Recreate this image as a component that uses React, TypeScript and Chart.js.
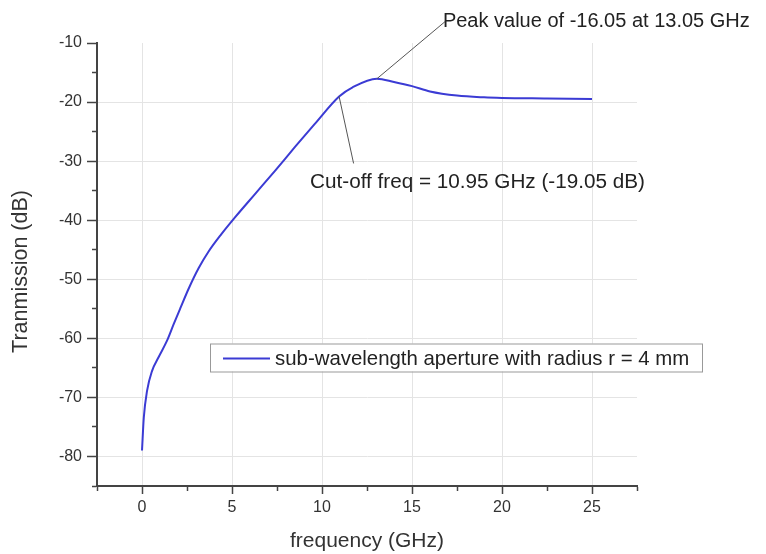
import React, { useEffect, useRef } from 'react';
import { Chart, registerables } from 'chart.js';

Chart.register(...registerables);

const frequency = [0, 0.1, 0.28, 0.56, 0.92, 1.39, 1.76, 2.13, 2.59, 3.15, 3.7, 4.4, 5.2, 6.3, 7.4, 8.5, 9.6, 10.95, 11.7, 13.05, 14, 15, 16, 17.5, 19, 20, 22.5, 25];
const transmission = [-79, -73.4, -68.9, -65.5, -63.2, -60.4, -57.6, -54.9, -51.6, -48.1, -45.3, -42.4, -39.4, -35.5, -31.6, -27.6, -23.7, -19.05, -17.5, -16.05, -16.6, -17.3, -18.2, -18.9, -19.2, -19.3, -19.4, -19.5];
const seriesLabel = 'sub-wavelength aperture with radius r = 4 mm';
const xTickLabels = [0, 5, 10, 15, 20, 25];
const yTickLabels = [-10, -20, -30, -40, -50, -60, -70, -80];
const yGridValues = [-20, -30, -40, -50, -60, -70, -80];
const annotationX = [13.05, 10.95];
const annotationY = [-16.05, -19.05];
const annotationText = ['Peak value of -16.05 at 13.05 GHz', 'Cut-off freq = 10.95 GHz (-19.05 dB)'];
const xTitle = 'frequency (GHz)';
const yTitle = 'Tranmission (dB)';

const FONT = 'Arial, "Liberation Sans", sans-serif';
const LINE_COLOR = '#3b3bd4';

const overlayPlugin = {
  id: 'overlay',
  afterDatasetsDraw(chart: any) {
    const { ctx, chartArea } = chart;
    const xs = chart.scales.x;
    const ys = chart.scales.y;
    ctx.save();
    ctx.textBaseline = 'middle';
    ctx.textAlign = 'left';
    // [leaderEndDx, leaderEndDy, textDx, textDy, fontSize]
    const offsets = [
      [68, -57, 66, -57, 20],
      [14.5, 67, -29, 85.5, 20.7],
    ];
    annotationX.forEach((v, i) => {
      const px = xs.getPixelForValue(v);
      const py = ys.getPixelForValue(annotationY[i]);
      const o = offsets[i];
      ctx.strokeStyle = '#555';
      ctx.lineWidth = 1;
      ctx.beginPath();
      ctx.moveTo(px, py);
      ctx.lineTo(px + o[0], py + o[1]);
      ctx.stroke();
      ctx.fillStyle = '#222';
      ctx.font = `${o[4]}px ${FONT}`;
      ctx.fillText(annotationText[i], px + o[2], py + o[3]);
    });

    // legend
    const lx = chartArea.left + 113;
    const ly = chartArea.top + 300.5;
    const lw = 492;
    const lh = 28;
    ctx.fillStyle = '#fff';
    ctx.fillRect(lx, ly, lw, lh);
    ctx.strokeStyle = '#999';
    ctx.lineWidth = 1;
    ctx.strokeRect(lx + 0.5, ly + 0.5, lw, lh);
    ctx.strokeStyle = LINE_COLOR;
    ctx.lineWidth = 2;
    ctx.beginPath();
    ctx.moveTo(lx + 13, ly + 15);
    ctx.lineTo(lx + 60, ly + 15);
    ctx.stroke();
    ctx.fillStyle = '#222';
    ctx.font = `20.4px ${FONT}`;
    ctx.fillText(chart.data.datasets[0].label, lx + 65, ly + 16);

    // y axis title
    ctx.save();
    ctx.translate(21, chartArea.top + 228.5);
    ctx.rotate(-Math.PI / 2);
    ctx.textAlign = 'center';
    ctx.fillStyle = '#333';
    ctx.font = `21.5px ${FONT}`;
    ctx.fillText(yTitle, 0, 0);
    ctx.restore();
    ctx.restore();
  },
};

export default function App() {
  const ref = useRef<HTMLCanvasElement>(null);
  useEffect(() => {
    if (!ref.current) return;
    const chart = new Chart(ref.current, {
      type: 'scatter',
      data: {
        datasets: [
          {
            label: seriesLabel,
            data: frequency.map((f, i) => ({ x: f, y: transmission[i] })),
            showLine: true,
            borderColor: LINE_COLOR,
            backgroundColor: LINE_COLOR,
            borderWidth: 2,
            pointRadius: 0,
            cubicInterpolationMode: 'monotone',
          },
        ],
      },
      options: {
        animation: false,
        responsive: true,
        maintainAspectRatio: false,
        layout: { padding: { top: 43, right: 129, left: 0, bottom: 0 } },
        plugins: { legend: { display: false }, tooltip: { enabled: false } },
        scales: {
          x: {
            type: 'linear',
            min: -2.5,
            max: 27.5,
            afterFit: (s: any) => { s.height = 68; },
            ticks: {
              stepSize: 2.5,
              autoSkip: false,
              maxRotation: 0,
              padding: 4,
              color: '#333',
              font: { family: FONT, size: 16 },
              callback: (v: any) => (xTickLabels.includes(Number(v)) ? String(v) : ''),
            },
            grid: {
              color: (c: any) => (c.tick && xTickLabels.includes(c.tick.value) ? '#e4e4e4' : 'rgba(0,0,0,0)'),
              lineWidth: 1,
              drawTicks: true,
              tickLength: 8,
              tickColor: '#444',
              tickWidth: 1.5,
              tickBorderDash: (c: any) => (c.tick && xTickLabels.includes(c.tick.value) ? [] : [4, 100]),
            },
            border: { display: true, color: '#444', width: 2 },
            title: {
              display: true,
              text: xTitle,
              color: '#333',
              font: { family: FONT, size: 21 },
              padding: { top: 0, bottom: 0.5 },
            },
          },
          y: {
            type: 'linear',
            min: -85,
            max: -10,
            afterFit: (s: any) => { s.width = 97; },
            ticks: {
              stepSize: 5,
              autoSkip: false,
              padding: 5,
              color: '#333',
              font: { family: FONT, size: 16 },
              callback: (v: any) => (yTickLabels.includes(Number(v)) ? String(v) : ''),
            },
            grid: {
              color: (c: any) => (c.tick && yGridValues.includes(c.tick.value) ? '#e4e4e4' : 'rgba(0,0,0,0)'),
              lineWidth: 1,
              drawTicks: true,
              tickLength: 10,
              tickColor: '#444',
              tickWidth: 1.5,
              tickBorderDash: (c: any) => (c.tick && yTickLabels.includes(c.tick.value) ? [] : [0, 5, 5, 100]),
            },
            border: { display: true, color: '#444', width: 2 },
            title: { display: false },
          },
        },
      },
      plugins: [overlayPlugin],
    } as any);
    return () => chart.destroy();
  }, []);
  return (
    <div style={{ position: 'fixed', left: 0, top: 0, width: 766, height: 554, background: '#fff' }}>
      <canvas ref={ref} />
    </div>
  );
}
